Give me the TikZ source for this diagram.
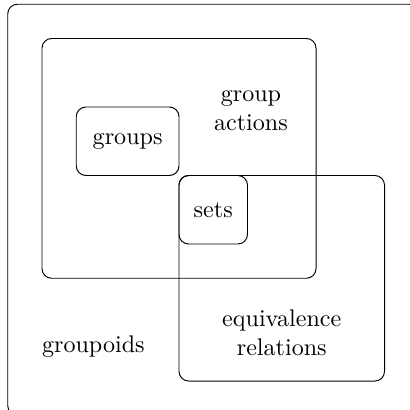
\documentclass[tikz,border=0pt]{standalone}
\usepackage{tikz}

\begin{document}
\begin{tikzpicture}
  \tikzset{box/.style={draw,rounded corners},
    lbl/.style={align=center}};
  \useasboundingbox (-2.613,-2.423) rectangle (3.358,3.562);
  \draw[box] (-2.5,-2.5) rectangle (3.5,3.5);
  \draw[box] (-2,-0.5) rectangle (2,3);
  \draw[box] (-1.5,1) rectangle (0,2);
  \draw[box] (0,0) rectangle (1,1);
  \draw[box] (0,-2) rectangle (3,1);
  \node[lbl] (GA) at (1.05,1.95){group\\actions};
  \node[lbl] (G) at (-0.75,1.5){groups};
  \node[lbl] (S) at (0.5,0.5){sets};
  \node[lbl] (ER) at (1.5,-1.3){equivalence\\relations};
  \node[lbl] (GP) at (-1.25,-1.5){groupoids};
\end{tikzpicture}
\end{document}
